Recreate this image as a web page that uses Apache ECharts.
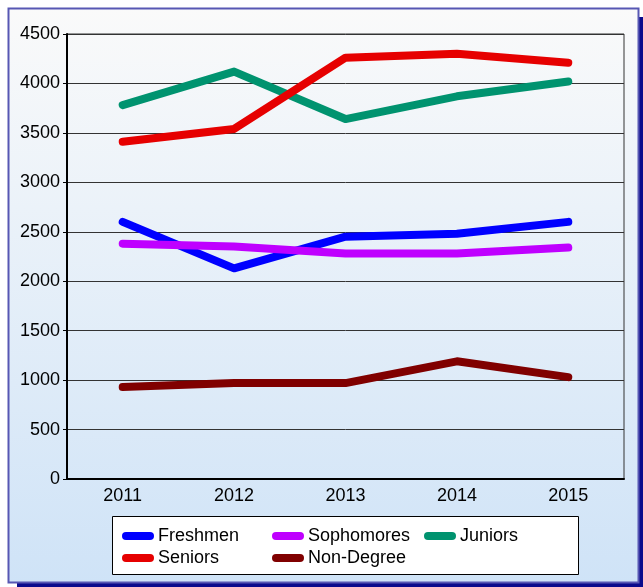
<!DOCTYPE html>
<html>
<head>
<meta charset="utf-8">
<script src="https://cdn.jsdelivr.net/npm/echarts@6/dist/echarts.min.js"></script>
<style>
  html, body { margin: 0; padding: 0; background: #fff; }
  #chart { width: 643px; height: 587px; }
</style>
</head>
<body>
<div id="chart"></div>
<script>
// data
var years = ['2011', '2012', '2013', '2014', '2015'];
var freshmen = [2600, 2130, 2450, 2480, 2600];
var sophomores = [2380, 2350, 2280, 2280, 2340];
var juniors = [3780, 4120, 3640, 3870, 4020];
var seniors = [3410, 3540, 4260, 4300, 4210];
var nonDegree = [930, 970, 970, 1190, 1030];

var names = ['Freshmen', 'Sophomores', 'Juniors', 'Seniors', 'Non-Degree'];
var colors = ['#0000ff', '#bf00ff', '#00936f', '#e60000', '#800000'];
var values = [freshmen, sophomores, juniors, seniors, nonDegree];

var font = 'Liberation Sans, Arial, sans-serif';
var pill = 'path://M4,0 H28 A4,4 0 0 1 28,8 H4 A4,4 0 0 1 4,0 Z';

function makeLegend(left, data) {
  return {
    orient: 'vertical',
    left: left,
    top: 522,
    itemWidth: 32,
    itemHeight: 8,
    itemGap: 4,
    icon: pill,
    data: data,
    textStyle: { fontFamily: font, fontSize: 18, color: '#000', padding: [0, 0, 0, -1] }
  };
}

var series = names.map(function (n, i) {
  return {
    name: n,
    type: 'line',
    data: values[i],
    symbol: 'none',
    color: colors[i],
    lineStyle: { width: 8, color: colors[i], cap: 'round', join: 'round' },
    animation: false
  };
});

var myChart = echarts.init(document.getElementById('chart'));
myChart.setOption({
  animation: false,
  backgroundColor: '#fff',
  graphic: [
    // shadow
    { type: 'rect', z: -20, shape: { x: 17, y: 17, width: 626, height: 570 },
      style: { fill: '#0a0a8c' }, silent: true },
    // panel
    { type: 'rect', z: -19, shape: { x: 8.5, y: 8.5, width: 630, height: 574 },
      style: {
        fill: new echarts.graphic.LinearGradient(0, 0, 0, 1, [
          { offset: 0, color: '#fafafa' },
          { offset: 1, color: '#cfe3f7' }
        ]),
        stroke: '#5757b3', lineWidth: 2
      }, silent: true },
    // legend box
    { type: 'rect', z: -5, shape: { x: 112.5, y: 516.5, width: 466, height: 58 },
      style: { fill: '#fff', stroke: '#000', lineWidth: 1 }, silent: true }
  ],
  grid: {
    left: 67, right: 19, top: 34, bottom: 108,
    show: true, borderColor: '#333', borderWidth: 1, backgroundColor: 'transparent'
  },
  legend: [
    makeLegend(117, ['Freshmen', 'Seniors']),
    makeLegend(267, ['Sophomores', 'Non-Degree']),
    makeLegend(419, ['Juniors'])
  ],
  xAxis: {
    type: 'category',
    data: years,
    boundaryGap: true,
    axisLine: { lineStyle: { color: '#000', width: 2 } },
    axisTick: { show: false },
    axisLabel: { fontFamily: font, fontSize: 18, color: '#000', margin: 8 }
  },
  yAxis: {
    type: 'value',
    min: 0,
    max: 4500,
    interval: 500,
    axisLine: { show: true, lineStyle: { color: '#000', width: 2 } },
    axisTick: { show: true, length: 4, lineStyle: { color: '#000' } },
    splitLine: { lineStyle: { color: '#333', width: 1 } },
    axisLabel: { fontFamily: font, fontSize: 18, color: '#000', margin: 7,
      formatter: function (v) { return String(v); } }
  },
  series: series
});
</script>
</body>
</html>
